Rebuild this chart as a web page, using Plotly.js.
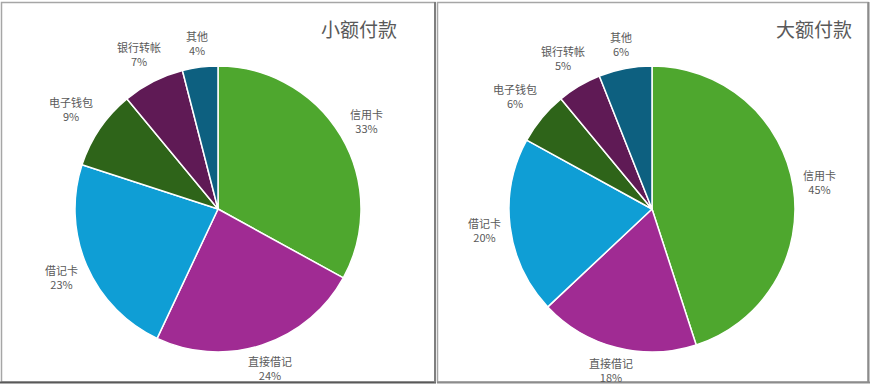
<!DOCTYPE html>
<html>
<head>
<meta charset="utf-8">
<script src="https://cdn.plot.ly/plotly-3.0.1.min.js"></script>
<style>html,body{margin:0;padding:0;background:#fff;}#chart{width:870px;height:385px;}</style>
</head>
<body>
<div id="chart"></div>
<script>
var categories = ["信用卡", "直接借记", "借记卡", "电子钱包", "银行转帐", "其他"];
var smallValues = [33, 24, 23, 9, 7, 4];
var largeValues = [45, 18, 20, 6, 5, 6];
var titles = ["小额付款", "大额付款"];
var colors = ["#4EA72E", "#A02B93", "#0F9ED5", "#2E6419", "#5F1A55", "#0D6080"];

var W = 870, H = 385;
function px(x){ return x / W; }
function py(y){ return 1 - y / H; }
var R = 143, CY = 209;
var LABEL_FONT = {family: "Noto Sans CJK SC, Noto Sans, sans-serif", size: 11, color: "#595959"};

function pieTrace(values, cx){
  return {
    type: "pie",
    labels: categories,
    values: values,
    sort: false,
    direction: "clockwise",
    rotation: 0,
    marker: {colors: colors, line: {color: "#ffffff", width: 1.5}},
    textinfo: "none",
    hoverinfo: "label+percent",
    showlegend: false,
    domain: {x: [px(cx - R), px(cx + R)], y: [py(CY + R), py(CY - R)]}
  };
}

// Data labels placed outside each slice (Excel "outside end" style), derived from the values
function sliceLabels(values, cx){
  var total = values.reduce(function(a, b){ return a + b; }, 0);
  var cum = 0, out = [];
  values.forEach(function(v, i){
    var mid = (cum + v / 2) / total * 2 * Math.PI;
    cum += v;
    var s = Math.sin(mid), c = Math.cos(mid);
    var hw = Math.max(categories[i].length * 11, 22) / 2, hh = c > 0 ? 15 : 10;
    var d = R + 8 + Math.abs(s) * hw + Math.abs(c) * hh;
    out.push({
      text: categories[i] + "<br>" + Math.round(v / total * 100) + "%",
      xref: "paper", yref: "paper",
      x: px(cx + s * d), y: py(CY - c * d),
      xanchor: "center", yanchor: "middle", align: "center",
      showarrow: false, font: LABEL_FONT
    });
  });
  return out;
}

var data = [pieTrace(smallValues, 218), pieTrace(largeValues, 652)];

var annotations = [
  {text: titles[0], xref: "paper", yref: "paper", x: px(399), y: py(28), xanchor: "right", yanchor: "middle", showarrow: false,
   font: {family: "Noto Sans CJK SC, sans-serif", size: 19, color: "#595959"}},
  {text: titles[1], xref: "paper", yref: "paper", x: px(854), y: py(28), xanchor: "right", yanchor: "middle", showarrow: false,
   font: {family: "Noto Sans CJK SC, sans-serif", size: 19, color: "#595959"}}
].concat(sliceLabels(smallValues, 218), sliceLabels(largeValues, 652));

var layout = {
  width: W, height: H,
  margin: {l: 0, r: 0, t: 0, b: 0},
  paper_bgcolor: "#ffffff",
  showlegend: false,
  annotations: annotations,
  shapes: [
    {type: "rect", xref: "paper", yref: "paper", x0: px(1.5), x1: px(435), y0: py(382), y1: py(2.5), line: {color: "#a6a6a6", width: 1.5}},
    {type: "rect", xref: "paper", yref: "paper", x0: px(437.5), x1: px(868), y0: py(382), y1: py(2.5), line: {color: "#a6a6a6", width: 1.5}},
    {type: "line", xref: "paper", yref: "paper", x0: px(0), x1: px(436), y0: py(382.5), y1: py(382.5), line: {color: "#595959", width: 2}},
    {type: "line", xref: "paper", yref: "paper", x0: px(435), x1: px(435), y0: py(382.5), y1: py(2), line: {color: "#7f7f7f", width: 2}},
    {type: "line", xref: "paper", yref: "paper", x0: px(437), x1: px(870), y0: py(382.5), y1: py(382.5), line: {color: "#8c8c8c", width: 2}},
    {type: "line", xref: "paper", yref: "paper", x0: px(868.5), x1: px(868.5), y0: py(382.5), y1: py(2), line: {color: "#8c8c8c", width: 2}}
  ]
};

Plotly.newPlot("chart", data, layout, {displayModeBar: false, staticPlot: true});
</script>
</body>
</html>
